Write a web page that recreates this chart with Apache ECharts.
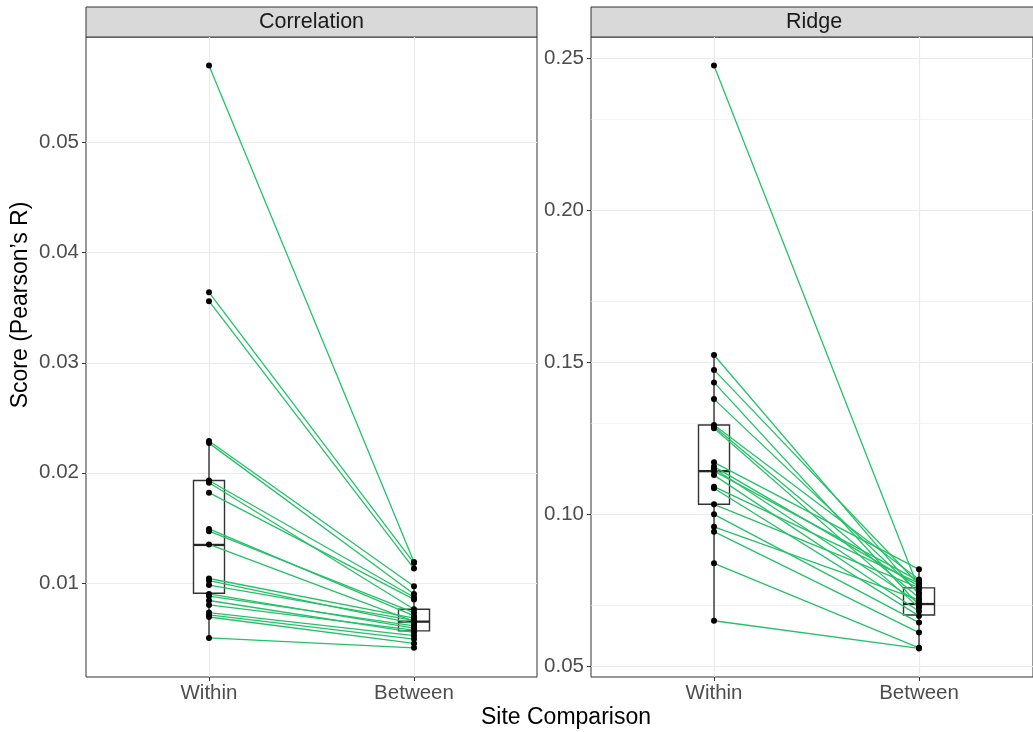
<!DOCTYPE html>
<html>
<head>
<meta charset="UTF-8"/>
<title>Site comparison</title>
<script src="https://cdn.jsdelivr.net/npm/echarts@6/dist/echarts.min.js"></script>
<style>
html, body { margin: 0; padding: 0; background: #fff; }
#chart { width: 1033px; height: 732px; }
</style>
</head>
<body>
<div id="chart"></div>
<script>
// categories and paired scores (same index = same site pair)
var categories = ['Within', 'Between'];

var corrWithin  = [0.0570, 0.0364, 0.0356, 0.0229, 0.0227, 0.0193, 0.0191, 0.0182, 0.0149, 0.0147, 0.0135,
                   0.0104, 0.0102, 0.0098, 0.0090, 0.0088, 0.0084, 0.0080, 0.0073, 0.0071, 0.0069, 0.0050];
var corrBetween = [0.0119, 0.0118, 0.0113, 0.0097, 0.0090, 0.0087, 0.0076, 0.0085, 0.0070, 0.0073, 0.0065,
                   0.0068, 0.0063, 0.0066, 0.0059, 0.0061, 0.0055, 0.0057, 0.0052, 0.0049, 0.0045, 0.0041];

var ridgeWithin  = [0.2475, 0.1523, 0.1474, 0.1433, 0.1378, 0.1293, 0.1288, 0.1282, 0.1170, 0.1156, 0.1150,
                    0.1141, 0.1128, 0.1090, 0.1085, 0.1032, 0.0999, 0.0958, 0.0942, 0.0838, 0.0649];
var ridgeBetween = [0.0752, 0.0735, 0.0768, 0.0700, 0.0740, 0.0785, 0.0725, 0.0693, 0.0818, 0.0763, 0.0708,
                    0.0780, 0.0680, 0.0772, 0.0665, 0.0758, 0.0643, 0.0718, 0.0610, 0.0560, 0.0558];

// box stats: [lower whisker, Q1, median, Q3, upper whisker]
var corrBoxWithin   = [0.0049, 0.00906, 0.01345, 0.0193, 0.02285];
var corrBoxBetween  = [0.00406, 0.00564, 0.00648, 0.0076, 0.0097];
var ridgeBoxWithin  = [0.0649, 0.1032, 0.1141, 0.1293, 0.1523];
var ridgeBoxBetween = [0.0560, 0.0668, 0.0704, 0.0757, 0.0818];

var corrTicks  = [0.01, 0.02, 0.03, 0.04, 0.05];
var corrMinor  = [0.005, 0.015, 0.025, 0.035, 0.045, 0.055];
var ridgeTicks = [0.05, 0.10, 0.15, 0.20, 0.25];
var ridgeMinor = [0.075, 0.125, 0.175, 0.225];

var FONT = "'Liberation Sans', Arial, Helvetica, sans-serif";
var GREEN = '#25C167';
var boxHalf = 0.0756;

function pairs(a, b) {
  return a.map(function (v, i) { return { coords: [[1, v], [2, b[i]]] }; });
}
function points(a, b) {
  var out = [];
  a.forEach(function (v) { out.push([1, v]); });
  b.forEach(function (v) { out.push([2, v]); });
  return out;
}
function gridLines(major, minor) {
  var d = [];
  minor.forEach(function (v) { d.push({ yAxis: v, lineStyle: { width: 0.6 } }); });
  major.forEach(function (v) { d.push({ yAxis: v, lineStyle: { width: 1.2 } }); });
  d.push({ xAxis: 1, lineStyle: { width: 1.2 } });
  d.push({ xAxis: 2, lineStyle: { width: 1.2 } });
  return d;
}
function renderBox(params, api) {
  var x = api.value(0);
  var lo = api.coord([x, api.value(1)]);
  var q1 = api.coord([x - boxHalf, api.value(2)]);
  var md = api.coord([x - boxHalf, api.value(3)]);
  var q3 = api.coord([x + boxHalf, api.value(4)]);
  var hi = api.coord([x, api.value(5)]);
  var mdR = api.coord([x + boxHalf, api.value(3)]);
  var st = { stroke: '#333333', lineWidth: 1.4, fill: null };
  return {
    type: 'group',
    children: [
      { type: 'rect', shape: { x: q1[0], y: q3[1], width: q3[0] - q1[0], height: q1[1] - q3[1] },
        style: { stroke: '#333333', lineWidth: 1.4, fill: '#ffffff' } },
      { type: 'line', shape: { x1: lo[0], y1: lo[1], x2: lo[0], y2: q1[1] }, style: st },
      { type: 'line', shape: { x1: hi[0], y1: q3[1], x2: hi[0], y2: hi[1] }, style: st },
      { type: 'line', shape: { x1: md[0], y1: md[1], x2: mdR[0], y2: md[1] },
        style: { stroke: '#262626', lineWidth: 2.3 } }
    ]
  };
}

function xAxisFor(i, max) {
  return {
    type: 'value', gridIndex: i, min: 0.4, max: max,
    axisLine: { show: false },
    splitLine: { show: false },
    axisTick: { show: true, customValues: [1, 2], length: 4, lineStyle: { color: '#333333', width: 1 } },
    axisLabel: {
      customValues: [1, 2], margin: 6, color: '#4D4D4D', fontSize: 20.5, fontFamily: FONT,
      formatter: function (v) { return categories[Math.round(v) - 1]; }
    }
  };
}
function yAxisFor(i, min, max, ticks) {
  return {
    type: 'value', gridIndex: i, min: min, max: max,
    axisLine: { show: false },
    splitLine: { show: false },
    axisTick: { show: true, customValues: ticks, length: 4, lineStyle: { color: '#333333', width: 1 } },
    axisLabel: {
      customValues: ticks, margin: 7, color: '#4D4D4D', fontSize: 20.5, fontFamily: FONT,
      formatter: function (v) { return v.toFixed(2); }
    }
  };
}

function panelSeries(i, wIn, bt, boxW, boxB, major, minor) {
  return [
    {
      type: 'line', xAxisIndex: i, yAxisIndex: i, data: [], z: 0, silent: true,
      markLine: {
        z: 0, silent: true, symbol: 'none', label: { show: false }, animation: false,
        lineStyle: { color: '#EBEBEB', type: 'solid' },
        data: gridLines(major, minor)
      }
    },
    {
      type: 'custom', xAxisIndex: i, yAxisIndex: i, z: 1, renderItem: renderBox,
      encode: { x: 0, y: [1, 2, 3, 4, 5] },
      data: [[1].concat(boxW), [2].concat(boxB)]
    },
    {
      type: 'lines', coordinateSystem: 'cartesian2d', xAxisIndex: i, yAxisIndex: i, z: 2,
      lineStyle: { color: GREEN, width: 1.3, opacity: 1 },
      data: pairs(wIn, bt)
    },
    {
      type: 'scatter', xAxisIndex: i, yAxisIndex: i, z: 3, symbolSize: 6,
      itemStyle: { color: '#000000', opacity: 1 },
      data: points(wIn, bt)
    }
  ];
}

var chart = echarts.init(document.getElementById('chart'));
chart.setOption({
  animation: false,
  grid: [
    { left: 86, top: 37, width: 451, height: 640, show: true, borderColor: '#333333', borderWidth: 1 },
    // the right panel runs past the picture's edge, so it is cut at 1033
    { left: 591, top: 37, width: 442, height: 640, show: true, borderColor: '#333333', borderWidth: 1 }
  ],
  xAxis: [xAxisFor(0, 2.6), xAxisFor(1, 2.556)],
  yAxis: [
    yAxisFor(0, 0.00145, 0.0596, corrTicks),
    yAxisFor(1, 0.0464, 0.2569, ridgeTicks)
  ],
  series: panelSeries(0, corrWithin, corrBetween, corrBoxWithin, corrBoxBetween, corrTicks, corrMinor)
    .concat(panelSeries(1, ridgeWithin, ridgeBetween, ridgeBoxWithin, ridgeBoxBetween, ridgeTicks, ridgeMinor)),
  graphic: [
    { type: 'rect', shape: { x: 86, y: 7, width: 451, height: 30 },
      style: { fill: '#D9D9D9', stroke: '#333333', lineWidth: 1 } },
    { type: 'text', x: 311.5, y: 22,
      style: { text: 'Correlation', fill: '#1A1A1A', font: '21.5px ' + FONT, textAlign: 'center', textVerticalAlign: 'middle' } },
    { type: 'rect', shape: { x: 591, y: 7, width: 451, height: 30 },
      style: { fill: '#D9D9D9', stroke: '#333333', lineWidth: 1 } },
    { type: 'text', x: 814, y: 22,
      style: { text: 'Ridge', fill: '#1A1A1A', font: '21.5px ' + FONT, textAlign: 'center', textVerticalAlign: 'middle' } },
    { type: 'text', x: 566, y: 718,
      style: { text: 'Site Comparison', fill: '#000000', font: '23px ' + FONT, textAlign: 'center', textVerticalAlign: 'middle' } },
    { type: 'text', x: 21, y: 305, rotation: Math.PI / 2,
      style: { text: 'Score (Pearson\u2019s R)', fill: '#000000', font: '23px ' + FONT, textAlign: 'center', textVerticalAlign: 'middle' } }
  ]
});
</script>
</body>
</html>
